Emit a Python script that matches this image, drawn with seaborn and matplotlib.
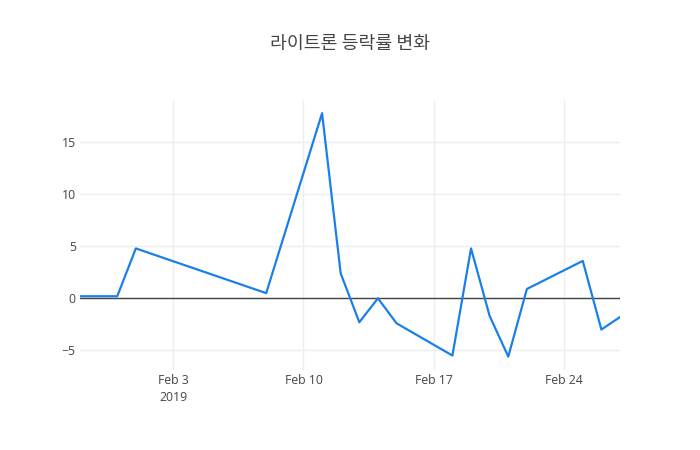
import matplotlib
matplotlib.use("Agg")
import matplotlib.pyplot as plt
import matplotlib.dates as mdates
import seaborn as sns
import pandas as pd
import numpy as np

dates = ["2019-01-29", "2019-01-30", "2019-01-31", "2019-02-01", "2019-02-08",
         "2019-02-11", "2019-02-12", "2019-02-13", "2019-02-14", "2019-02-15",
         "2019-02-18", "2019-02-19", "2019-02-20", "2019-02-21", "2019-02-22",
         "2019-02-25", "2019-02-26", "2019-02-27"]
change = [0.2, 0.2, 0.2, 4.8, 0.5,
          17.8, 2.4, -2.3, 0.0, -2.4,
          -5.5, 4.8, -1.7, -5.6, 0.9,
          3.6, -3.0, -1.8]
title = "라이트론 등락률 변화"
xtick_dates = ["2019-02-03", "2019-02-10", "2019-02-17", "2019-02-24"]
xtick_labels = ["Feb 3\n2019", "Feb 10", "Feb 17", "Feb 24"]
ytick_vals = [-5, 0, 5, 10, 15]
ytick_labels = ["\u22125", "0", "5", "10", "15"]

df = pd.DataFrame({"date": pd.to_datetime(dates), "change": change})

sns.set_theme(style="white")
plt.rcParams['font.family'] = ['Open Sans', 'Noto Sans CJK KR', 'DejaVu Sans']

fig = plt.figure(figsize=(7, 4.5), dpi=100)
ax = fig.add_axes([80/700, 1-370/450, 540/700, 270/450])

sns.lineplot(data=df, x="date", y="change", ax=ax, color="#1a80e8", linewidth=1.6, zorder=3)

ax.set_xlim(pd.Timestamp("2019-01-29"), pd.Timestamp("2019-02-27"))
ax.set_ylim(-6.89, 19.07)

ax.set_xticks(pd.to_datetime(xtick_dates))
ax.set_xticklabels(xtick_labels)
ax.set_yticks(ytick_vals)
ax.set_yticklabels(ytick_labels)

ax.grid(True, color="#eeeeee", linewidth=1.0, zorder=0)
ax.axhline(0, color="#444444", linewidth=1.0, zorder=2)
for s in ax.spines.values():
    s.set_visible(False)
ax.tick_params(axis="both", length=0, labelsize=8.8, colors="#444444")
ax.tick_params(axis="y", pad=3)
ax.tick_params(axis="x", pad=3)
for lbl in ax.get_xticklabels():
    lbl.set_linespacing(1.35)
ax.set_xlabel("")
ax.set_ylabel("")

fig.text(0.5, 1-44/450, title, ha="center", va="center", fontsize=13.2,
         color="#444444", fontweight="medium", family=['Noto Sans CJK KR', 'DejaVu Sans'])

fig.savefig("out.png", dpi=100, facecolor="white")
